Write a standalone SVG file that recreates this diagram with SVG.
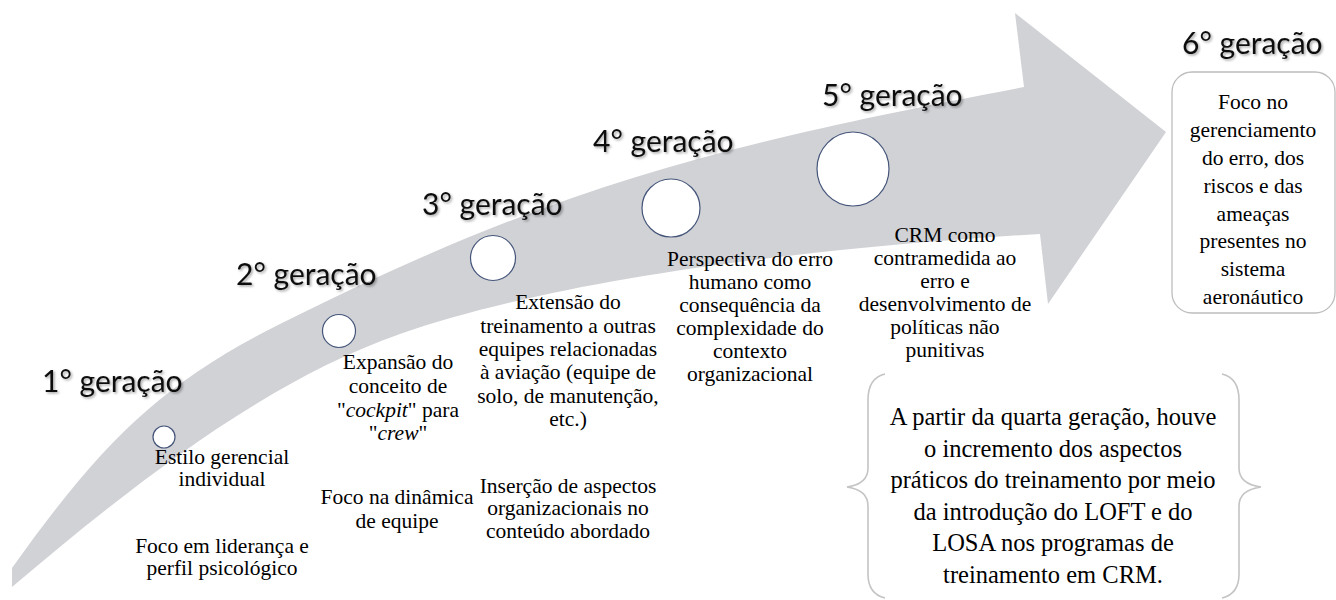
<svg xmlns="http://www.w3.org/2000/svg" width="1336" height="600" viewBox="0 0 1336 600">
  <defs>
    <filter id="shadow" x="-10%" y="-30%" width="130%" height="170%">
      <feDropShadow dx="1.5" dy="1.5" stdDeviation="1" flood-color="#000" flood-opacity="0.35"/>
    </filter>
  </defs>
  <style>
    .gen { font-family: Lato, 'Liberation Sans', sans-serif; font-size: 30px; fill: #111; }
    .desc { font-family: 'Liberation Serif', 'Times New Roman', serif; font-size: 21.5px; fill: #000; text-anchor: middle; }
    .note { font-family: 'Liberation Serif', 'Times New Roman', serif; font-size: 24.5px; fill: #000; text-anchor: middle; }
    .dot { fill: #fff; stroke: #45557a; stroke-width: 1.2; }
    .box { fill: #fff; stroke: #bdbdbd; stroke-width: 1.3; }
    .brace { fill: none; stroke: #c4c4c4; stroke-width: 1.6; }
  </style>
  <rect width="1336" height="600" fill="#fff"/>

  <g id="timeline-arrow">
    <path d="M12,587 L12,568 C102,442 160,384 280,324 C560,184 724,144 1024,87 L1015,13 L1166,132 L1048,304 L1040,234 C790,249 550,281.5 400,334 C270,379.5 142,476.5 12,587 Z" fill="#d1d2d6"/>
  </g>

  <g id="gen1">
    <circle class="dot" cx="164" cy="437" r="11"/>
    <text class="gen" filter="url(#shadow)" x="42" y="392">1° geração</text>
    <text class="desc" x="222" y="464">Estilo gerencial</text>
    <text class="desc" x="222" y="486">individual</text>
    <text class="desc" x="222" y="553">Foco em liderança e</text>
    <text class="desc" x="222" y="575">perfil psicológico</text>
  </g>

  <g id="gen2">
    <circle class="dot" cx="339" cy="331" r="16.5"/>
    <text class="gen" filter="url(#shadow)" x="236" y="285">2° geração</text>
    <text class="desc" x="398" y="369">Expansão do</text>
    <text class="desc" x="398" y="393">conceito de</text>
    <text class="desc" x="398" y="417">"<tspan font-style="italic">cockpit</tspan>" para</text>
    <text class="desc" x="398" y="440">"<tspan font-style="italic">crew</tspan>"</text>
    <text class="desc" x="397" y="504">Foco na dinâmica</text>
    <text class="desc" x="397" y="528">de equipe</text>
  </g>

  <g id="gen3">
    <circle class="dot" cx="493" cy="258" r="22.5"/>
    <text class="gen" filter="url(#shadow)" x="422" y="215">3° geração</text>
    <text class="desc" x="568" y="309">Extensão do</text>
    <text class="desc" x="568" y="333">treinamento a outras</text>
    <text class="desc" x="568" y="356">equipes relacionadas</text>
    <text class="desc" x="568" y="379">à aviação (equipe de</text>
    <text class="desc" x="568" y="403">solo, de manutenção,</text>
    <text class="desc" x="568" y="426">etc.)</text>
    <text class="desc" x="568" y="493">Inserção de aspectos</text>
    <text class="desc" x="568" y="515">organizacionais no</text>
    <text class="desc" x="568" y="538">conteúdo abordado</text>
  </g>

  <g id="gen4">
    <circle class="dot" cx="671" cy="208" r="29"/>
    <text class="gen" filter="url(#shadow)" x="593" y="152">4° geração</text>
    <text class="desc" x="750" y="266">Perspectiva do erro</text>
    <text class="desc" x="750" y="289">humano como</text>
    <text class="desc" x="750" y="312">consequência da</text>
    <text class="desc" x="750" y="335">complexidade do</text>
    <text class="desc" x="750" y="358">contexto</text>
    <text class="desc" x="750" y="381">organizacional</text>
  </g>

  <g id="gen5">
    <ellipse class="dot" cx="853" cy="169" rx="36" ry="37"/>
    <text class="gen" filter="url(#shadow)" x="822" y="106">5° geração</text>
    <text class="desc" x="945" y="242">CRM como</text>
    <text class="desc" x="945" y="265">contramedida ao</text>
    <text class="desc" x="945" y="288">erro e</text>
    <text class="desc" x="945" y="311">desenvolvimento de</text>
    <text class="desc" x="945" y="334">políticas não</text>
    <text class="desc" x="945" y="357">punitivas</text>
  </g>

  <g id="gen6">
    <text class="gen" filter="url(#shadow)" x="1182" y="54">6° geração</text>
    <rect class="box" x="1172" y="72" width="163" height="241" rx="20" ry="20"/>
    <text class="desc" x="1253" y="109">Foco no</text>
    <text class="desc" x="1253" y="137">gerenciamento</text>
    <text class="desc" x="1253" y="165">do erro, dos</text>
    <text class="desc" x="1253" y="193">riscos e das</text>
    <text class="desc" x="1253" y="221">ameaças</text>
    <text class="desc" x="1253" y="248">presentes no</text>
    <text class="desc" x="1253" y="276">sistema</text>
    <text class="desc" x="1253" y="304">aeronáutico</text>
  </g>

  <g id="note">
    <path class="brace" d="M885,374 Q868,378 868,400 L868,468 Q868,484 847,487 Q868,490 868,506 L868,574 Q868,594 885,598"/>
    <path class="brace" d="M1222,374 Q1239,378 1239,400 L1239,468 Q1239,484 1261,487 Q1239,490 1239,506 L1239,574 Q1239,594 1222,598"/>
    <text class="note" x="1053" y="425">A partir da quarta geração, houve</text>
    <text class="note" x="1053" y="457">o incremento dos aspectos</text>
    <text class="note" x="1053" y="488">práticos do treinamento por meio</text>
    <text class="note" x="1053" y="520">da introdução do LOFT e do</text>
    <text class="note" x="1053" y="551">LOSA nos programas de</text>
    <text class="note" x="1053" y="583">treinamento em CRM.</text>
  </g>
</svg>
